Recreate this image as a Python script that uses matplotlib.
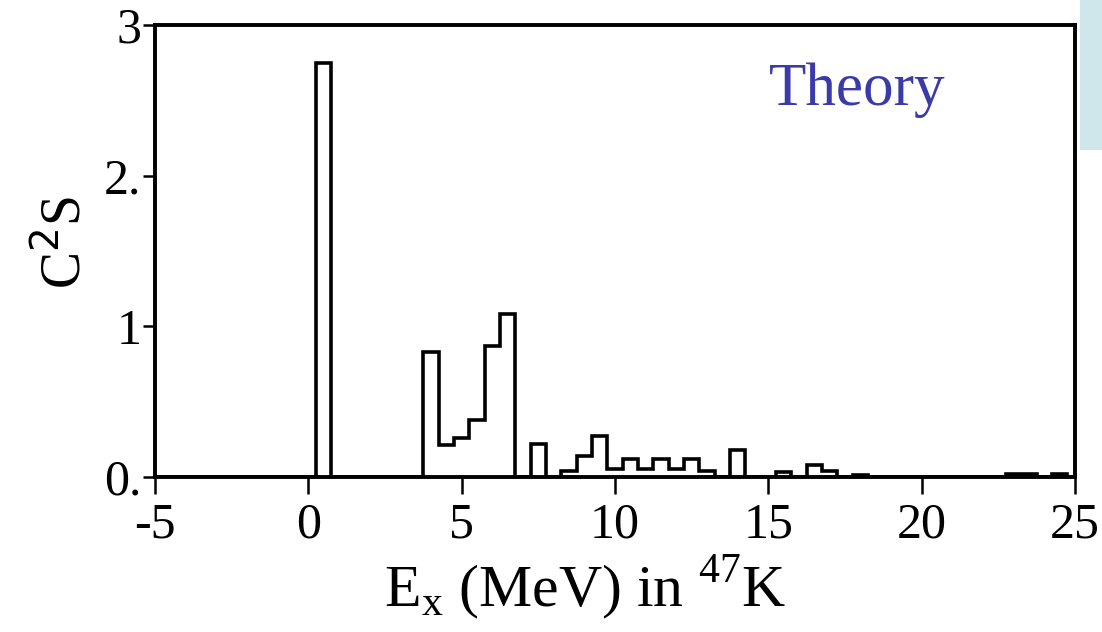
import numpy as np
import matplotlib
matplotlib.use("Agg")
import matplotlib.pyplot as plt
from matplotlib.patches import Rectangle

# Data: bin centres (MeV) and spectroscopic strengths C^2S (bin width 0.5 MeV)
bin_width = 0.5
centers = [0.5, 4.0, 4.5, 5.0, 5.5, 6.0, 6.5, 7.5, 8.5, 9.0, 9.5, 10.0, 10.5,
           11.0, 11.5, 12.0, 12.5, 13.0, 14.0, 15.5, 16.5, 17.0, 18.0, 23.0,
           23.5, 24.5]
strengths = [2.75, 0.83, 0.21, 0.26, 0.38, 0.87, 1.08, 0.22, 0.04, 0.14, 0.27,
             0.05, 0.12, 0.05, 0.12, 0.05, 0.12, 0.04, 0.18, 0.03, 0.08, 0.04,
             0.01, 0.02, 0.02, 0.02]

xticks = [-5, 0, 5, 10, 15, 20, 25]
yticks = [0, 1, 2, 3]

plt.rcParams['font.family'] = ['Liberation Serif', 'DejaVu Serif']

fig = plt.figure(figsize=(11.02, 6.32), dpi=100)
ax = fig.add_axes([0.1407, 0.2453, 0.9755 - 0.1407, 0.9604 - 0.2453])

# build histogram on a 0.5 MeV grid
edges = np.arange(-5.25, 25.25 + 1e-9, bin_width)
vals = np.zeros(len(edges) - 1)
for c, s in zip(centers, strengths):
    i = int(round((c - bin_width / 2 - edges[0]) / bin_width))
    vals[i] = s
ax.stairs(vals, edges, baseline=0, color='black', linewidth=2.6)

ax.set_xlim(-5, 25)
ax.set_ylim(0, 3)
ax.set_xticks(xticks)
ax.set_yticks(yticks)
ax.set_xticklabels([str(t) for t in xticks])
ax.set_yticklabels(['0.', '1', '2.', '3'])
ax.tick_params(axis='x', direction='out', length=12, width=1.8,
               labelsize=36, colors='black', pad=6)
ax.tick_params(axis='y', direction='out', length=9, width=1.8,
               labelsize=36, colors='black', pad=1)
for sp in ax.spines.values():
    sp.set_linewidth(2.8)

ax.set_ylabel(r'C$^{2}$S', fontsize=40)
ax.yaxis.set_label_coords(-0.068, 0.52)
ax.set_xlabel(r'E$_\mathregular{x}$ (MeV) in $^{\mathregular{47}}$K', fontsize=43)
ax.xaxis.set_label_coords(0.467, -0.17)

ax.text(0.763, 0.856, 'Theory', transform=ax.transAxes, fontsize=44,
        color='#3a3aa8', ha='center', va='center')

# cut-off slide panel at top right
fig.patches.append(Rectangle((1080 / 1102, 1 - 150 / 632), 22 / 1102, 150 / 632,
                             transform=fig.transFigure, facecolor='#cfe7ea',
                             edgecolor='none', zorder=-1))

fig.savefig('out.png', dpi=100)
